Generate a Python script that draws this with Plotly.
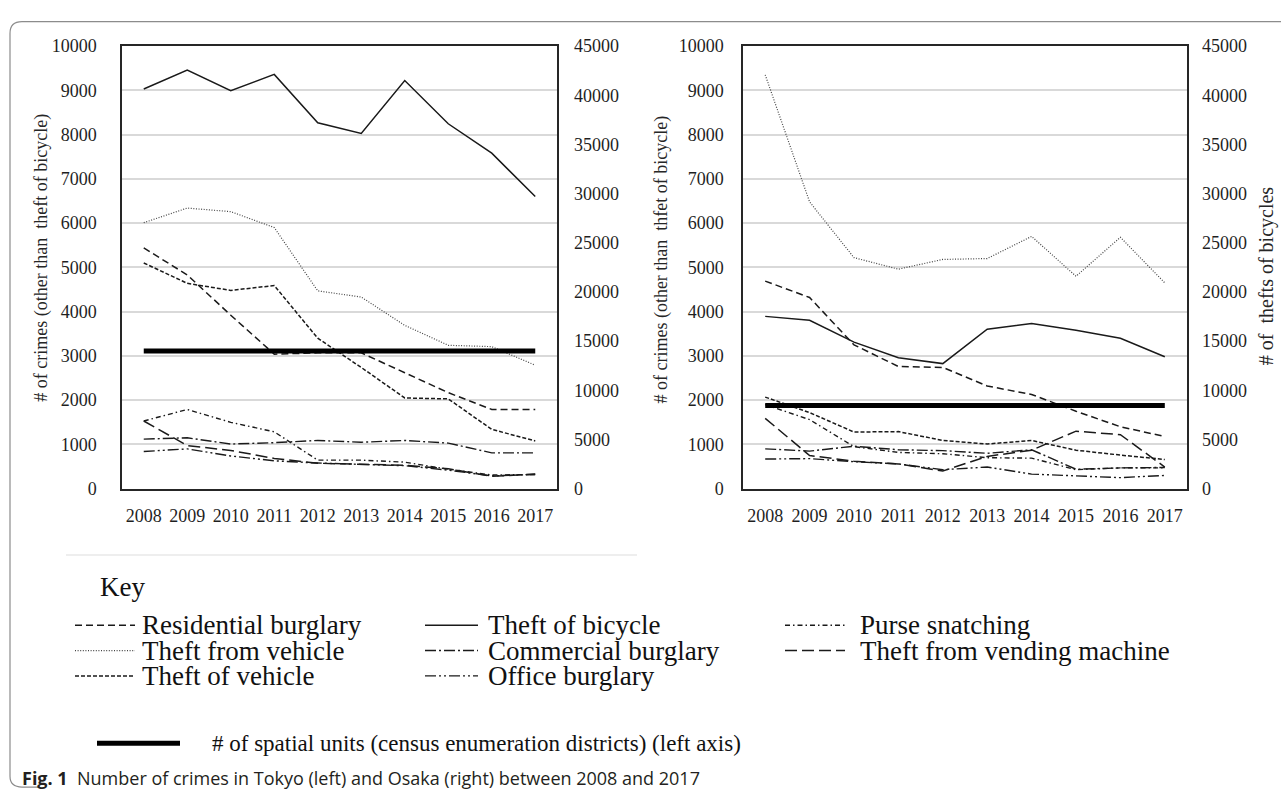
import plotly.graph_objects as go

W, H = 1281, 799

years = ["2008", "2009", "2010", "2011", "2012", "2013", "2014", "2015", "2016", "2017"]

# ---- Tokyo (left) ----
tokyo_residential = [5440, 4830, 3920, 3040, 3070, 3070, 2620, 2170, 1790, 1790]
tokyo_from_vehicle = [6010, 6340, 6260, 5900, 4470, 4330, 3690, 3240, 3210, 2790]
tokyo_of_vehicle = [5100, 4640, 4480, 4590, 3400, 2740, 2050, 2030, 1340, 1080]
tokyo_bicycle = [40640, 42550, 40470, 42120, 37200, 36110, 41500, 37100, 34110, 29700]
tokyo_commercial = [1120, 1150, 1010, 1040, 1090, 1050, 1090, 1030, 810, 810]
tokyo_office = [840, 900, 740, 630, 580, 555, 520, 420, 290, 320]
tokyo_purse = [1530, 1790, 1500, 1285, 645, 645, 600, 440, 310, 320]
tokyo_vending = [1530, 975, 865, 685, 575, 560, 530, 450, 280, 330]
tokyo_units = [3110, 3110, 3110, 3110, 3110, 3110, 3110, 3110, 3110, 3110]

# ---- Osaka (right) ----
osaka_residential = [4690, 4320, 3250, 2760, 2740, 2320, 2130, 1750, 1400, 1180]
osaka_from_vehicle = [9350, 6480, 5220, 4960, 5180, 5200, 5700, 4800, 5680, 4650]
osaka_of_vehicle = [2070, 1720, 1280, 1290, 1090, 1010, 1090, 870, 760, 660]
osaka_bicycle = [17520, 17120, 14900, 13310, 12720, 16220, 16790, 16110, 15300, 13410]
osaka_commercial = [900, 850, 960, 880, 860, 800, 880, 440, 470, 480]
osaka_office = [670, 680, 610, 560, 430, 490, 330, 290, 250, 300]
osaka_purse = [1900, 1560, 950, 820, 790, 700, 690, 430, 470, 470]
osaka_vending = [1590, 750, 620, 560, 400, 730, 870, 1300, 1220, 490]
osaka_units = [1880, 1880, 1880, 1880, 1880, 1880, 1880, 1880, 1880, 1880]

left_ticks = [0, 1000, 2000, 3000, 4000, 5000, 6000, 7000, 8000, 9000, 10000]
right_ticks = [0, 5000, 10000, 15000, 20000, 25000, 30000, 35000, 40000, 45000]

legend_labels = [
    ["Residential burglary", "Theft of bicycle", "Purse snatching"],
    ["Theft from vehicle", "Commercial burglary", "Theft from vending machine"],
    ["Theft of vehicle", "Office burglary", None],
]

# ---- styles ----
SERIF = "Liberation Serif"
INK = "#1a1a1a"
STY = {
    "Residential burglary": dict(dash="7px,4px", width=1.5, color=INK),
    "Theft from vehicle": dict(dash="1px,1.6px", width=1.2, color="#444444"),
    "Theft of vehicle": dict(dash="4px,2px", width=1.5, color=INK),
    "Theft of bicycle": dict(dash="solid", width=1.5, color=INK),
    "Commercial burglary": dict(dash="11px,3px,2px,3px", width=1.4, color=INK),
    "Office burglary": dict(dash="11px,3px,2px,3px,2px,3px", width=1.4, color=INK),
    "Purse snatching": dict(dash="5px,3px,1.5px,3px", width=1.4, color=INK),
    "Theft from vending machine": dict(dash="12px,5px", width=1.5, color=INK),
    "units": dict(dash="solid", width=5, color="#000000"),
}


def px(x):
    return x / W


def py(y):
    return 1 - y / H


fig = go.Figure()

panels = [
    ("x", "y", "y2", dict(
        res=tokyo_residential, frv=tokyo_from_vehicle, ofv=tokyo_of_vehicle,
        bic=tokyo_bicycle, com=tokyo_commercial, off=tokyo_office,
        pur=tokyo_purse, ven=tokyo_vending, uni=tokyo_units)),
    ("x2", "y3", "y4", dict(
        res=osaka_residential, frv=osaka_from_vehicle, ofv=osaka_of_vehicle,
        bic=osaka_bicycle, com=osaka_commercial, off=osaka_office,
        pur=osaka_purse, ven=osaka_vending, uni=osaka_units)),
]

names = {
    "res": "Residential burglary", "frv": "Theft from vehicle", "ofv": "Theft of vehicle",
    "bic": "Theft of bicycle", "com": "Commercial burglary", "off": "Office burglary",
    "pur": "Purse snatching", "ven": "Theft from vending machine",
}

for xa, ya, ya2, d in panels:
    for key in ["com", "off", "pur", "ven", "ofv", "res", "frv"]:
        fig.add_trace(go.Scatter(x=years, y=d[key], mode="lines", name=names[key],
                                 xaxis=xa, yaxis=ya, line=STY[names[key]],
                                 showlegend=False, hoverinfo="skip"))
    fig.add_trace(go.Scatter(x=years, y=d["bic"], mode="lines", name=names["bic"],
                             xaxis=xa, yaxis=ya2, line=STY[names["bic"]],
                             showlegend=False, hoverinfo="skip"))
    fig.add_trace(go.Scatter(x=years, y=d["uni"], mode="lines", name="units",
                             xaxis=xa, yaxis=ya, line=STY["units"],
                             showlegend=False, hoverinfo="skip"))

ydom = [py(491), py(37)]
tickfont = dict(family=SERIF, size=18, color="#1f1f1f")

common_x = dict(type="category", range=[-0.5, 9.5], showline=True, mirror=True,
                linecolor="#262626", linewidth=1.5, ticks="", showgrid=False,
                tickfont=tickfont, ticklabelstandoff=10, fixedrange=True)
common_y = dict(range=[0, 10000], tickvals=left_ticks, tickformat="d", showline=True,
                mirror=True, linecolor="#262626", linewidth=1.5, ticks="", showgrid=True,
                gridcolor="#d9d9d9", gridwidth=1.5, zeroline=False,
                tickfont=tickfont, fixedrange=True)
common_y2 = dict(range=[0, 45000], tickvals=right_ticks, tickformat="d", side="right",
                 showgrid=False, zeroline=False, ticks="", showline=False,
                 tickfont=tickfont, fixedrange=True)

fig.update_layout(
    width=W, height=H, margin=dict(l=0, r=0, t=0, b=0),
    paper_bgcolor="white", plot_bgcolor="white", showlegend=False,
    xaxis=dict(common_x, domain=[px(122), px(557)], anchor="y"),
    yaxis=dict(common_y, domain=ydom, anchor="x", ticklabelstandoff=20),
    yaxis2=dict(common_y2, overlaying="y", anchor="x", ticklabelstandoff=16),
    xaxis2=dict(common_x, domain=[px(743), px(1187)], anchor="y3"),
    yaxis3=dict(common_y, domain=ydom, anchor="x2", ticklabelstandoff=14),
    yaxis4=dict(common_y2, overlaying="y3", anchor="x2", ticklabelstandoff=14),
)

ann = []
shapes = []

# axis titles
ttl = dict(family=SERIF, size=18, color="#262626")
ann.append(dict(x=px(42), y=py(254), xref="paper", yref="paper", textangle=-90,
                text="# of crimes (other than  theft of bicycle)", showarrow=False,
                font=ttl, xanchor="center", yanchor="middle"))
ann.append(dict(x=px(662), y=py(256), xref="paper", yref="paper", textangle=-90,
                text="# of crimes (other than  thfet of bicycle)", showarrow=False,
                font=ttl, xanchor="center", yanchor="middle"))
ann.append(dict(x=px(1266), y=py(273), xref="paper", yref="paper", textangle=-90,
                text="# of  thefts of bicycles", showarrow=False,
                font=dict(family=SERIF, size=20, color="#262626"),
                xanchor="center", yanchor="middle"))

# outer rounded frame
shapes.append(dict(type="path", xref="paper", yref="paper", layer="below",
                   path=(f"M {px(1290)},{py(12)} L {px(22)},{py(12)} "
                         f"Q {px(10)},{py(12)} {px(10)},{py(24)} "
                         f"L {px(10)},{py(786)} Q {px(10)},{py(797)} {px(22)},{py(797)} "
                         f"L {px(40)},{py(797)}"),
                   line=dict(color="#8c8c8c", width=1.2)))

# faint separator above key
shapes.append(dict(type="line", xref="paper", yref="paper", x0=px(66), x1=px(637),
                   y0=py(559), y1=py(559), line=dict(color="#e8e8e8", width=1.5)))

legfont = dict(family=SERIF, size=27, color="#111111")
ann.append(dict(x=px(98), y=py(592), xref="paper", yref="paper", text="Key",
                showarrow=False, font=legfont, xanchor="left", yanchor="middle"))

row_y = [631, 657, 683]
col_sym = [(75, 135), (425, 478), (785, 845)]
col_txt = [140, 486, 858]
for r, row in enumerate(legend_labels):
    for c, lab in enumerate(row):
        if lab is None:
            continue
        s = STY[lab]
        shapes.append(dict(type="line", xref="paper", yref="paper",
                           x0=px(col_sym[c][0]), x1=px(col_sym[c][1]),
                           y0=py(row_y[r]), y1=py(row_y[r]),
                           line=dict(color=s["color"], width=s["width"], dash=s["dash"])))
        ann.append(dict(x=px(col_txt[c]), y=py(row_y[r]), xref="paper", yref="paper",
                        text=lab, showarrow=False, font=legfont,
                        xanchor="left", yanchor="middle"))

shapes.append(dict(type="line", xref="paper", yref="paper", x0=px(97), x1=px(180),
                   y0=py(752), y1=py(752), line=dict(color="#000000", width=5)))
ann.append(dict(x=px(210), y=py(752), xref="paper", yref="paper",
                text="# of spatial units (census enumeration districts) (left axis)",
                showarrow=False, font=dict(family=SERIF, size=23, color="#111111"),
                xanchor="left", yanchor="middle"))

# caption
ann.append(dict(x=px(20), y=py(788), xref="paper", yref="paper",
                text="<b>Fig. 1</b>  Number of crimes in Tokyo (left) and Osaka (right) between 2008 and 2017",
                showarrow=False, font=dict(family="Open Sans", size=18, color="#231f20"),
                xanchor="left", yanchor="middle"))

fig.update_layout(annotations=ann, shapes=shapes)
fig.write_html("out.html", config={"displayModeBar": False},
               post_script="document.body.style.margin='0px';document.body.style.overflow='hidden';")
